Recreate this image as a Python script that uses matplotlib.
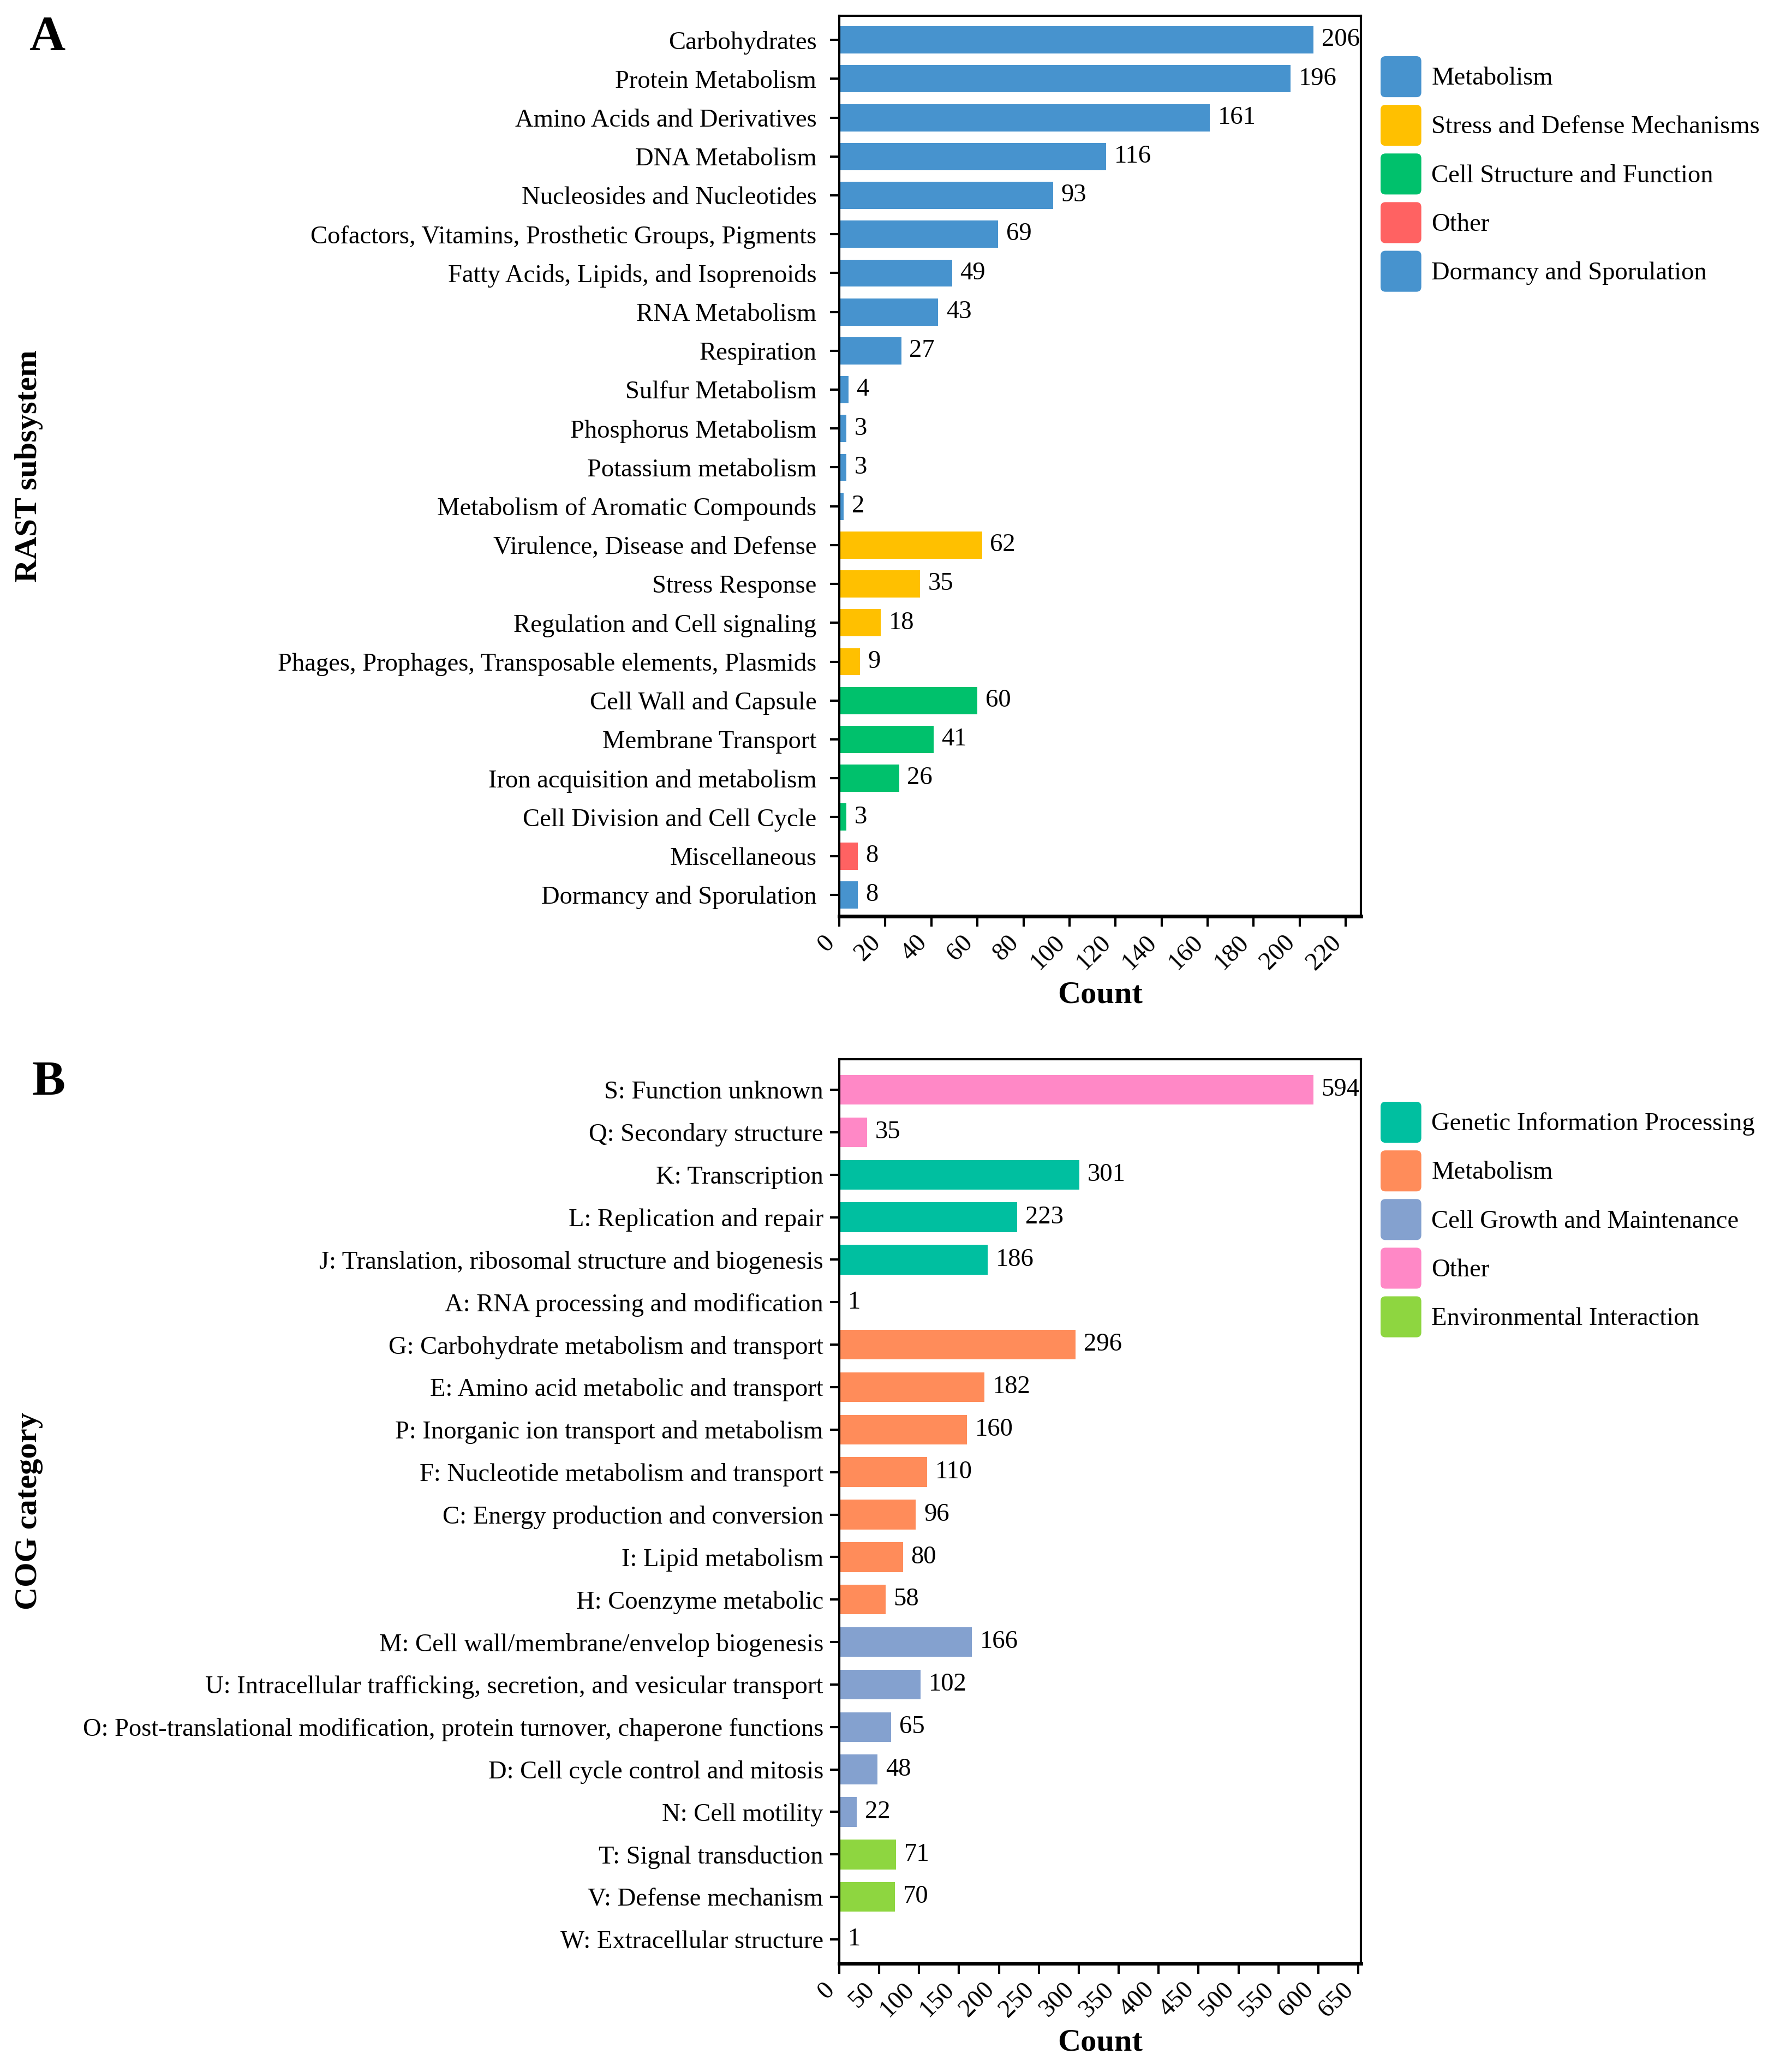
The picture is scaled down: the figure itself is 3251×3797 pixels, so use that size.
import matplotlib
matplotlib.use("Agg")
import matplotlib.pyplot as plt
from matplotlib.patches import Patch, FancyBboxPatch
from matplotlib.legend_handler import HandlerPatch

plt.rcParams['font.family'] = ['Liberation Serif', 'DejaVu Serif']

# ---- panel A: RAST subsystem ----
rast_names = ['Carbohydrates', 'Protein Metabolism', 'Amino Acids and Derivatives',
              'DNA Metabolism', 'Nucleosides and Nucleotides',
              'Cofactors, Vitamins, Prosthetic Groups, Pigments',
              'Fatty Acids, Lipids, and Isoprenoids', 'RNA Metabolism', 'Respiration',
              'Sulfur Metabolism', 'Phosphorus Metabolism', 'Potassium metabolism',
              'Metabolism of Aromatic Compounds', 'Virulence, Disease and Defense',
              'Stress Response', 'Regulation and Cell signaling',
              'Phages, Prophages, Transposable elements, Plasmids',
              'Cell Wall and Capsule', 'Membrane Transport',
              'Iron acquisition and metabolism', 'Cell Division and Cell Cycle',
              'Miscellaneous', 'Dormancy and Sporulation']
rast_counts = [206, 196, 161, 116, 93, 69, 49, 43, 27, 4, 3, 3, 2,
               62, 35, 18, 9, 60, 41, 26, 3, 8, 8]
rast_group = ['Metabolism'] * 13 + ['Stress and Defense Mechanisms'] * 4 + \
             ['Cell Structure and Function'] * 4 + ['Other', 'Dormancy and Sporulation']
rast_legend = ['Metabolism', 'Stress and Defense Mechanisms', 'Cell Structure and Function',
               'Other', 'Dormancy and Sporulation']
rast_colors = {'Metabolism': '#4793CE', 'Stress and Defense Mechanisms': '#FFC000',
               'Cell Structure and Function': '#00C16C', 'Other': '#FF6262',
               'Dormancy and Sporulation': '#4793CE'}

# ---- panel B: COG category ----
cog_names = ['S: Function unknown', 'Q: Secondary structure', 'K: Transcription',
             'L: Replication and repair', 'J: Translation, ribosomal structure and biogenesis',
             'A: RNA processing and modification', 'G: Carbohydrate metabolism and transport',
             'E: Amino acid metabolic and transport', 'P: Inorganic ion transport and metabolism',
             'F: Nucleotide metabolism and transport', 'C: Energy production and conversion',
             'I: Lipid metabolism', 'H: Coenzyme metabolic',
             'M: Cell wall/membrane/envelop biogenesis',
             'U: Intracellular trafficking, secretion, and vesicular transport',
             'O: Post-translational modification, protein turnover, chaperone functions',
             'D: Cell cycle control and mitosis', 'N: Cell motility',
             'T: Signal transduction', 'V: Defense mechanism', 'W: Extracellular structure']
cog_counts = [594, 35, 301, 223, 186, 1, 296, 182, 160, 110, 96, 80, 58,
              166, 102, 65, 48, 22, 71, 70, 1]
cog_group = ['Other'] * 2 + ['Genetic Information Processing'] * 4 + ['Metabolism'] * 7 + \
            ['Cell Growth and Maintenance'] * 5 + ['Environmental Interaction'] * 3
cog_legend = ['Genetic Information Processing', 'Metabolism', 'Cell Growth and Maintenance',
              'Other', 'Environmental Interaction']
cog_colors = {'Genetic Information Processing': '#00BFA0', 'Metabolism': '#FF8C5A',
              'Cell Growth and Maintenance': '#84A1CF', 'Other': '#FF88C6',
              'Environmental Interaction': '#8ED640'}

FS = 11.2


class RoundHandler(HandlerPatch):
    def create_artists(self, legend, orig_handle, xdescent, ydescent, width, height,
                       fontsize, trans):
        p = FancyBboxPatch((-xdescent, -ydescent), width, height,
                           boxstyle="round,pad=0,rounding_size=%f" % (0.12 * height),
                           facecolor=orig_handle.get_facecolor(), edgecolor='none',
                           transform=trans)
        return [p]


W, H = 3251, 3797
fig = plt.figure(figsize=(W / 300, H / 300), dpi=300)


def draw(rect, names, counts, groups, legend_names, colors, ylabel, ypad, xstep,
         ylims, legend_top):
    ax = fig.add_axes(rect)
    n = len(names)
    pos = list(range(n))
    bars = ax.barh(pos, counts, height=0.7, color=[colors[g] for g in groups])
    ax.bar_label(bars, padding=3.5, fontsize=FS)
    ax.set_ylim(n - 1 + ylims[1], -ylims[0])
    ax.set_xlim(0, max(counts) * 1.1)
    ax.set_yticks(pos)
    ax.set_yticklabels(names, fontsize=FS)
    ax.set_xticks(range(0, int(max(counts) * 1.1) + 1, xstep))
    plt.setp(ax.get_xticklabels(), rotation=45, ha='right', fontsize=FS)
    ax.tick_params(axis='y', length=4, width=1, pad=ypad)
    ax.tick_params(axis='x', length=4.5, width=1, pad=2)
    for s in ax.spines.values():
        s.set_linewidth(1.0)
    ax.spines['bottom'].set_linewidth(1.6)
    ax.set_xlabel('Count', fontsize=14, fontweight='bold')
    ax.xaxis.set_label_coords(0.5, -0.072)
    ax.xaxis.label.set_va('top')
    b = ax.get_position()
    fig.text(53 / W, b.y0 + b.height / 2, ylabel, rotation=90, ha='center', va='center',
             fontsize=14, fontweight='bold')
    handles = [Patch(facecolor=colors[g]) for g in legend_names]
    fig.legend(handles, legend_names, loc='upper left',
               bbox_to_anchor=(2530 / W, 1 - legend_top / H), frameon=False,
               fontsize=FS, handlelength=1.6, handleheight=2.1, labelspacing=0.3,
               handletextpad=0.4, borderpad=0, borderaxespad=0,
               handler_map={Patch: RoundHandler()})
    return ax


draw([1538 / W, 1 - 1679 / H, 956 / W, 1650 / H], rast_names, rast_counts, rast_group,
     rast_legend, rast_colors, 'RAST subsystem', 6, 20, (0.62, 0.55), 103)
draw([1538 / W, 1 - 3598 / H, 956 / W, 1657 / H], cog_names, cog_counts, cog_group,
     cog_legend, cog_colors, 'COG category', 3, 50, (0.72, 0.565), 2019)

fig.text(53 / W, 1 - 29 / H, 'A', fontsize=22, fontweight='bold', ha='left', va='top')
fig.text(58 / W, 1 - 1944 / H, 'B', fontsize=22, fontweight='bold', ha='left', va='top')

fig.savefig('out.png', dpi=300, facecolor='white')
